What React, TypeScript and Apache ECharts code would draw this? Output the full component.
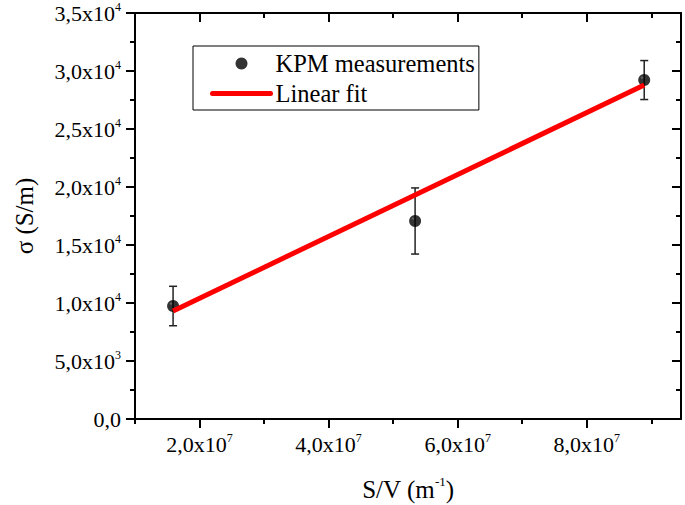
import React, { useEffect, useRef } from "react";
import * as echarts from "echarts";

// ---- data ----
const xValues = [1.59e7, 5.34e7, 8.89e7];
const yValues = [9740, 17070, 29220];
const yErrors = [1700, 2850, 1680];
const fitX = [1.59e7, 8.89e7];
const fitY = [9310, 28790];

const xMajorTicks = [2e7, 4e7, 6e7, 8e7];
const xMinorTicks = [1e7, 3e7, 5e7, 7e7, 9e7];
const xTickLabels = ["2,0x10^7", "4,0x10^7", "6,0x10^7", "8,0x10^7"];
const yTicks = [0, 5000, 10000, 15000, 20000, 25000, 30000, 35000];
const yTickLabels = [
  "0,0",
  "5,0x10^3",
  "1,0x10^4",
  "1,5x10^4",
  "2,0x10^4",
  "2,5x10^4",
  "3,0x10^4",
  "3,5x10^4",
];

const FONT = "Liberation Serif";

function toRich(label: string): string {
  const parts = label.split("^");
  if (parts.length === 1) return "{m|" + parts[0] + "}";
  return "{m|" + parts[0] + "}{e|" + parts[1] + "}";
}

const tickRich = {
  m: { fontFamily: FONT, fontSize: 22, color: "#000", lineHeight: 25 },
  e: { fontFamily: FONT, fontSize: 12, color: "#000", lineHeight: 13, verticalAlign: "top" as const },
};

export default function App() {
  const ref = useRef<HTMLDivElement>(null);
  useEffect(() => {
    document.body.style.margin = "0";
    if (!ref.current) return;
    const chart = echarts.init(ref.current, undefined, { renderer: "svg" });
    const xMin = 1e7;
    const xMax = 9.46e7;
    const axisLine = { show: true, lineStyle: { color: "#000", width: 2 } };
    const option: any = {
      animation: false,
      backgroundColor: "#fff",
      textStyle: { fontFamily: FONT },
      grid: { left: 135, right: 4, top: 13, bottom: 86, containLabel: false, outerBoundsMode: "none" },
      legend: {
        orient: "vertical",
        left: 193,
        top: 46,
        padding: [5, 4, 4, 17],
        itemGap: 5,
        itemWidth: 58,
        itemHeight: 12,
        borderColor: "#000",
        borderWidth: 1,
        backgroundColor: "#fff",
        textStyle: { fontFamily: FONT, fontSize: 24.5, color: "#000" },
        data: [
          { name: "KPM measurements", icon: "circle", itemStyle: { color: "#000" } },
          { name: "Linear fit", itemStyle: { opacity: 0 }, lineStyle: { color: "#ff0000", width: 5, cap: "round" } },
        ],
      },
      xAxis: [
        {
          type: "value",
          position: "bottom",
          min: xMin,
          max: xMax,
          axisLine,
          splitLine: { show: false },
          axisTick: { show: true, customValues: xMajorTicks, length: 9, lineStyle: { color: "#000", width: 2 } },
          axisLabel: {
            customValues: xMajorTicks,
            margin: 13,
            fontFamily: FONT,
            fontSize: 22,
            color: "#000",
            formatter: (v: number) => {
              const i = xMajorTicks.indexOf(v);
              return i >= 0 ? toRich(xTickLabels[i]) : "";
            },
            rich: tickRich,
          },
          name: "{m|S/V (m}{e|-1}{m|)}",
          nameLocation: "middle",
          nameGap: 56,
          nameTextStyle: {
            fontFamily: FONT,
            fontSize: 25,
            color: "#000",
            rich: {
              m: { fontFamily: FONT, fontSize: 25, color: "#000", lineHeight: 28 },
              e: { fontFamily: FONT, fontSize: 13, color: "#000", lineHeight: 15, verticalAlign: "top" },
            },
          },
        },
        {
          type: "value",
          position: "bottom",
          min: xMin,
          max: xMax,
          axisLine: { show: false },
          splitLine: { show: false },
          axisTick: { show: true, customValues: xMinorTicks, length: 5, lineStyle: { color: "#000", width: 2 } },
          axisLabel: { show: false },
        },
        {
          type: "value",
          position: "top",
          min: xMin,
          max: xMax,
          axisLine,
          splitLine: { show: false },
          axisTick: { show: true, inside: true, customValues: xMajorTicks, length: 9, lineStyle: { color: "#000", width: 2 } },
          axisLabel: { show: false },
        },
        {
          type: "value",
          position: "top",
          min: xMin,
          max: xMax,
          axisLine: { show: false },
          splitLine: { show: false },
          axisTick: { show: true, inside: true, customValues: xMinorTicks, length: 5, lineStyle: { color: "#000", width: 2 } },
          axisLabel: { show: false },
        },
      ],
      yAxis: [
        {
          type: "value",
          position: "left",
          min: 0,
          max: 35000,
          interval: 5000,
          axisLine,
          splitLine: { show: false },
          axisTick: { show: true, length: 9, lineStyle: { color: "#000", width: 2 } },
          minorTick: { show: true, splitNumber: 2, length: 5, lineStyle: { color: "#000", width: 2 } },
          axisLabel: {
            margin: 14,
            fontFamily: FONT,
            fontSize: 22,
            color: "#000",
            formatter: (v: number) => {
              const i = yTicks.indexOf(v);
              return i >= 0 ? toRich(yTickLabels[i]) : "";
            },
            rich: tickRich,
          },
          name: "σ (S/m)",
          nameLocation: "middle",
          nameGap: 98,
          nameTextStyle: { fontFamily: FONT, fontSize: 25, color: "#000" },
        },
        {
          type: "value",
          position: "right",
          min: 0,
          max: 35000,
          interval: 5000,
          axisLine,
          splitLine: { show: false },
          axisTick: { show: true, inside: true, length: 9, lineStyle: { color: "#000", width: 2 } },
          minorTick: { show: true, splitNumber: 2, length: 5, lineStyle: { color: "#000", width: 2 } },
          axisLabel: { show: false },
        },
      ],
      series: [
        {
          name: "errors",
          type: "custom",
          xAxisIndex: 0,
          yAxisIndex: 0,
          z: 1,
          silent: true,
          data: xValues.map((x, i) => [x, yValues[i] - yErrors[i], yValues[i] + yErrors[i]]),
          renderItem: (params: any, api: any) => {
            const x = api.value(0);
            const lo = api.coord([x, api.value(1)]);
            const hi = api.coord([x, api.value(2)]);
            const w = 4;
            const st = { stroke: "#222", lineWidth: 1.5 };
            return {
              type: "group",
              children: [
                { type: "line", shape: { x1: lo[0], y1: lo[1], x2: hi[0], y2: hi[1] }, style: st },
                { type: "line", shape: { x1: lo[0] - w, y1: lo[1], x2: lo[0] + w, y2: lo[1] }, style: st },
                { type: "line", shape: { x1: hi[0] - w, y1: hi[1], x2: hi[0] + w, y2: hi[1] }, style: st },
              ],
            };
          },
        },
        {
          name: "KPM measurements",
          type: "scatter",
          xAxisIndex: 0,
          yAxisIndex: 0,
          z: 2,
          symbol: "circle",
          symbolSize: 12,
          itemStyle: {
            color: {
              type: "radial",
              x: 0.32,
              y: 0.3,
              r: 0.5,
              colorStops: [
                { offset: 0, color: "#555" },
                { offset: 0.3, color: "#000" },
                { offset: 1, color: "#000" },
              ],
            },
          },
          data: xValues.map((x, i) => [x, yValues[i]]),
        },
        {
          name: "Linear fit",
          type: "line",
          xAxisIndex: 0,
          yAxisIndex: 0,
          z: 3,
          showSymbol: false,
          symbol: "none",
          color: "#ff0000",
          lineStyle: { color: "#ff0000", width: 5 },
          data: fitX.map((x, i) => [x, fitY[i]]),
        },
      ],
    };
    chart.setOption(option);
    return () => chart.dispose();
  }, []);
  return <div ref={ref} style={{ width: 685, height: 505 }} />;
}
